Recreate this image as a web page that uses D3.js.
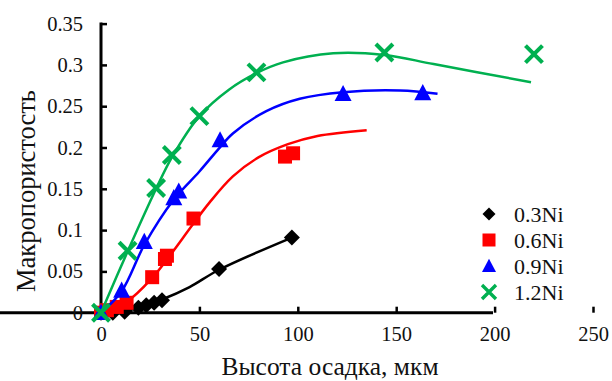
<!DOCTYPE html>
<html>
<head>
<meta charset="utf-8">
<script src="https://cdn.jsdelivr.net/npm/d3@7"></script>
<style>
  html, body { margin: 0; padding: 0; background: #fff; }
  svg text { font-family: "Liberation Serif", "Times New Roman", "DejaVu Serif", serif; }
</style>
</head>
<body>
<svg id="chart" width="612" height="381"></svg>
<script>
// Measured points per nickel content
const seriesNames = ["0.3Ni", "0.6Ni", "0.9Ni", "1.2Ni"];
const colors = ["#000000", "#FF0000", "#0000FF", "#00B050"];

const x03 = [0, 6, 12, 19, 23, 27, 31, 60, 97];
const y03 = [0, 0, 0.001, 0.006, 0.009, 0.012, 0.015, 0.053, 0.091];
const x06 = [0, 3, 8, 13, 26, 32.5, 33.5, 47, 93.5, 97.6];
const y06 = [0, 0.003, 0.007, 0.012, 0.043, 0.065, 0.069, 0.114, 0.189, 0.193];
const x09 = [0, 10.5, 22, 37, 39.5, 60.5, 123, 163.5];
const y09 = [0, 0.027, 0.086, 0.139, 0.147, 0.209, 0.265, 0.266];
const x12 = [0, 13.5, 28, 36, 50, 79, 144, 220];
const y12 = [0, 0.075, 0.151, 0.191, 0.238, 0.291, 0.315, 0.313];

// Trend lines drawn through each series
const fit03 = [[0, 0], [12, 0.002], [20, 0.007], [31, 0.016], [45, 0.031], [60, 0.052], [97, 0.091]];
const fit06 = [[0, 0], [13, 0.013], [26, 0.042], [34, 0.066], [47, 0.108], [55, 0.133], [67, 0.165], [80, 0.188], [95, 0.204], [110, 0.214], [135, 0.221]];
const fit09 = [[0, 0], [10.5, 0.026], [22, 0.082], [37, 0.137], [50, 0.171], [60, 0.199], [67, 0.217], [84, 0.244], [101, 0.259], [123, 0.267], [152, 0.269], [171, 0.265]];
const fit12 = [[0, 0], [13.5, 0.074], [28, 0.15], [36, 0.188], [50, 0.238], [65, 0.27], [79, 0.29], [92.5, 0.303], [118, 0.314], [144, 0.312], [169, 0.301], [218.5, 0.279]];

const xTicks = [0, 50, 100, 150, 200, 250];
const yTicks = [0, 0.05, 0.1, 0.15, 0.2, 0.25, 0.3, 0.35];
const xTitle = "Высота осадка, мкм";
const yTitle = "Макропористость";

const FONT = "'Liberation Serif', 'Times New Roman', 'DejaVu Serif', serif";

const svg = d3.select("#chart");
const x = d3.scaleLinear().domain([0, 250]).range([101, 593]);
const y = d3.scaleLinear().domain([0, 0.35]).range([312.7, 23.6]);

// Axes: ticks point inward
const xAxis = d3.axisBottom(x).tickValues(xTicks).tickSizeInner(-6).tickSizeOuter(0).tickPadding(14).tickFormat(d3.format("d"));
const yAxis = d3.axisLeft(y).tickValues(yTicks).tickSizeInner(-6).tickSizeOuter(0).tickPadding(18).tickFormat(d => d === 0 ? "0" : String(+d.toFixed(2)));

const gx = svg.append("g").attr("transform", `translate(0,${y(0)})`).call(xAxis);
const gy = svg.append("g").attr("transform", `translate(${x(0)},0)`).call(yAxis);
[gx, gy].forEach(g => {
  g.attr("font-family", FONT).attr("font-size", 20.5);
  g.select(".domain").attr("stroke", "#000").attr("stroke-width", 3);
  g.selectAll(".tick line").attr("stroke", "#000").attr("stroke-width", 2.5);
  g.selectAll(".tick text").attr("fill", "#111");
});
gy.select(".domain").attr("d", `M0,${y(0.35) - 1}V${y(0) + 1.5}`);
gx.select(".domain").attr("d", `M-1.5,0H${x(250) - x(0) + 1}`);

svg.append("text").attr("x", 330).attr("y", 375).attr("text-anchor", "middle")
  .attr("font-family", FONT).attr("font-size", 25.5).attr("fill", "#111").text(xTitle);
svg.append("text").attr("transform", "translate(35,191) rotate(-90)").attr("text-anchor", "middle")
  .attr("font-family", FONT).attr("font-size", 26.5).attr("fill", "#111").text(yTitle);

// Marker shapes
function marker(g, i, cx, cy, s) {
  const c = colors[i];
  if (i === 0) {
    g.append("path").attr("transform", `translate(${cx},${cy}) rotate(45)`)
      .attr("d", d3.symbol(d3.symbolSquare, s * s * 0.5)()).attr("fill", c);
  } else if (i === 1) {
    g.append("rect").attr("x", cx - s / 2).attr("y", cy - s / 2).attr("width", s).attr("height", s).attr("fill", c);
  } else if (i === 2) {
    const h = s * 0.95, w = s;
    g.append("path").attr("d", `M${cx},${cy - h * 0.55}L${cx + w / 2},${cy + h * 0.45}L${cx - w / 2},${cy + h * 0.45}Z`).attr("fill", c);
  } else {
    const a = s / 2;
    g.append("path").attr("d", `M${cx - a},${cy - a}L${cx + a},${cy + a}M${cx - a},${cy + a}L${cx + a},${cy - a}`)
      .attr("stroke", c).attr("stroke-width", s * 0.24).attr("fill", "none");
  }
}

const xs = [x03, x06, x09, x12], ys = [y03, y06, y09, y12], fits = [fit03, fit06, fit09, fit12];
const sizes = [16, 14, 17, 17];
const line = d3.line().x(d => x(d[0])).y(d => y(d[1])).curve(d3.curveCatmullRom.alpha(0.5));
const plot = svg.append("g");
seriesNames.forEach((name, i) => {
  const g = plot.append("g");
  g.append("path").attr("d", line(fits[i])).attr("fill", "none").attr("stroke", colors[i]).attr("stroke-width", 2.5);
  xs[i].forEach((v, k) => marker(g, i, x(v), y(ys[i][k]), sizes[i]));
});

// Legend
const legend = svg.append("g");
const legendY = [214, 240, 266, 292];
seriesNames.forEach((name, i) => {
  marker(legend, i, 489, legendY[i], [13, 13, 14, 14][i]);
  legend.append("text").attr("x", 514).attr("y", legendY[i]).attr("dy", "0.35em")
    .attr("font-family", FONT).attr("font-size", 22).attr("fill", "#111").text(name);
});
</script>
</body>
</html>
